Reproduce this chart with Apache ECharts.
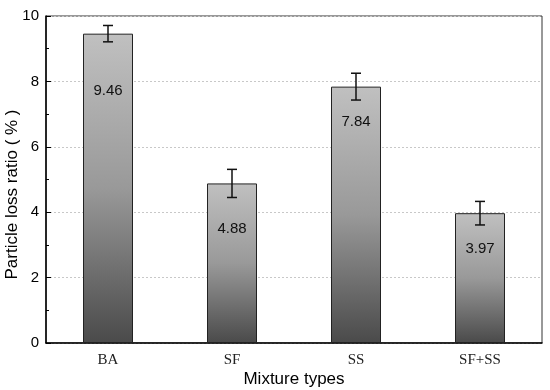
<!DOCTYPE html>
<html><head><meta charset="utf-8">
<script src="https://cdn.jsdelivr.net/npm/echarts@6/dist/echarts.min.js"></script>
<style>html,body{margin:0;padding:0;background:#fff}#c{width:550px;height:390px}</style>
</head><body><div id="c"></div>
<script>
var categories = ['BA', 'SF', 'SS', 'SF+SS'];
var values = [9.46, 4.88, 7.84, 3.97];
var errors = [0.25, 0.43, 0.41, 0.36];
var labelDistances = [50, 38, 28, 28];

var chart = echarts.init(document.getElementById('c'));
var barData = values.map(function (v, i) {
  return { value: v, label: { distance: labelDistances[i] } };
});
var errData = values.map(function (v, i) { return [i, v - errors[i], v + errors[i]]; });

chart.setOption({
  animation: false,
  grid: { left: 46, right: 8, top: 16, bottom: 47, outerBoundsMode: 'none', containLabel: false, show: true, borderColor: '#333', borderWidth: 1, backgroundColor: 'transparent' },
  xAxis: {
    type: 'category', data: categories,
    name: 'Mixture types', nameLocation: 'middle', nameGap: 28, nameMoveOverlap: false,
    nameTextStyle: { fontFamily: 'Liberation Sans', fontSize: 17, color: '#000' },
    axisLine: { lineStyle: { color: '#000', width: 1.5 } },
    axisTick: { show: false },
    axisLabel: { fontFamily: 'Liberation Serif', fontSize: 15, color: '#222', margin: 10 },
    splitLine: { show: false }
  },
  yAxis: {
    type: 'value', min: 0, max: 10, interval: 2,
    name: 'Particle loss ratio ( % )', nameLocation: 'middle', nameGap: 25, nameMoveOverlap: false,
    nameTextStyle: { fontFamily: 'Liberation Sans', fontSize: 17, color: '#000', padding: [0, 30, 0, 0] },
    axisLine: { show: true, lineStyle: { color: '#000', width: 1.5 } },
    axisTick: { show: true, inside: true, length: 5, lineStyle: { color: '#000' } },
    minorTick: { show: true, splitNumber: 2, length: 3, lineStyle: { color: '#000' } },
    axisLabel: { fontFamily: 'Liberation Sans', fontSize: 15, color: '#000', margin: 7 },
    splitLine: { show: true, lineStyle: { color: '#c8c8c8', type: [2, 2], width: 1 } }
  },
  series: [
    {
      type: 'bar', data: barData, barWidth: 50,
      itemStyle: {
        borderColor: '#222', borderWidth: 1,
        color: new echarts.graphic.LinearGradient(0, 0, 0, 1, [
          { offset: 0, color: '#c0c0c0' },
          { offset: 0.5, color: '#999999' },
          { offset: 1, color: '#4a4a4a' }
        ])
      },
      label: { show: true, position: 'insideTop', fontFamily: 'Liberation Sans', fontSize: 15, color: '#111' }
    },
    {
      type: 'custom', data: errData, z: 10,
      renderItem: function (params, api) {
        var x = api.value(0);
        var lo = api.coord([x, api.value(1)]);
        var hi = api.coord([x, api.value(2)]);
        var w = 5;
        var st = { stroke: '#111', lineWidth: 1.5 };
        return { type: 'group', children: [
          { type: 'line', shape: { x1: lo[0], y1: lo[1], x2: hi[0], y2: hi[1] }, style: st },
          { type: 'line', shape: { x1: lo[0] - w, y1: lo[1], x2: lo[0] + w, y2: lo[1] }, style: st },
          { type: 'line', shape: { x1: hi[0] - w, y1: hi[1], x2: hi[0] + w, y2: hi[1] }, style: st }
        ] };
      }
    }
  ]
});
</script></body></html>
